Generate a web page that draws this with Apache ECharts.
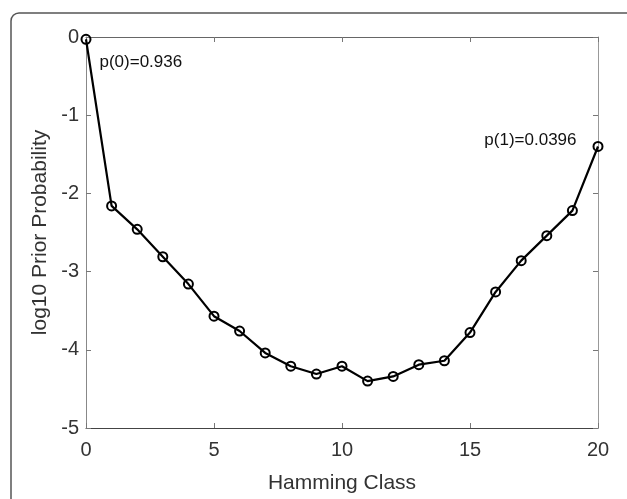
<!DOCTYPE html>
<html>
<head>
<meta charset="utf-8">
<script src="https://cdn.jsdelivr.net/npm/echarts@6/dist/echarts.min.js"></script>
<style>
html,body{margin:0;padding:0;background:#fff;}
#chart{width:627px;height:499px;}
</style>
</head>
<body>
<div id="chart"></div>
<script>
// Data
var hammingClass = [0,1,2,3,4,5,6,7,8,9,10,11,12,13,14,15,16,17,18,19,20];
var logPrior = [-0.029,-2.16,-2.46,-2.81,-3.16,-3.57,-3.76,-4.04,-4.21,-4.31,-4.21,-4.40,-4.34,-4.19,-4.14,-3.78,-3.26,-2.86,-2.54,-2.22,-1.40];
var xTicks = [0,5,10,15,20];
var yTicks = [-5,-4,-3,-2,-1,0];
var annotations = [{index:0, text:'p(0)=0.936'}, {index:20, text:'p(1)=0.0396'}];

var FONT = '"Liberation Sans", Arial, Helvetica, sans-serif';
var chart = echarts.init(document.getElementById('chart'), null, {renderer:'canvas'});

var seriesData = hammingClass.map(function(x, i){
  var item = {value:[x, logPrior[i]]};
  annotations.forEach(function(a){
    if (a.index === i) {
      var first = i === 0;
      item.label = {
        show: true,
        formatter: a.text,
        position: first ? 'right' : 'left',
        distance: 5,
        offset: first ? [3, 23] : [-11, -6],
        fontFamily: FONT,
        fontSize: 17,
        color: '#111'
      };
    }
  });
  return item;
});

var axisCommon = function(extra){
  return Object.assign({
    type:'value',
    splitLine:{show:false},
    axisTick:{show:true, inside:true, length:5, lineStyle:{color:'#777', width:1}},
    axisLabel:{show:false}
  }, extra);
};

chart.setOption({
  animation:false,
  backgroundColor:'#fff',
  graphic:[{
    type:'rect',
    shape:{x:11, y:13, width:700, height:600, r:8},
    style:{fill:'none', stroke:'#555', lineWidth:1.5},
    z:-10, silent:true
  }],
  grid:{left:86, right:29, top:37, bottom:60, containLabel:false},
  xAxis:[
    axisCommon({
      position:'bottom', min:xTicks[0], max:xTicks[xTicks.length-1], interval:xTicks[1]-xTicks[0],
      axisLine:{show:true, onZero:false, lineStyle:{color:'#444', width:1}},
      axisLabel:{show:true, margin:12, fontFamily:FONT, fontSize:20, color:'#333'},
      name:'Hamming Class', nameLocation:'middle', nameGap:45,
      nameTextStyle:{fontFamily:FONT, fontSize:21, color:'#333'}
    }),
    axisCommon({
      position:'top', min:xTicks[0], max:xTicks[xTicks.length-1], interval:xTicks[1]-xTicks[0],
      axisLine:{show:true, onZero:false, lineStyle:{color:'#666', width:1}}
    })
  ],
  yAxis:[
    axisCommon({
      position:'left', min:yTicks[0], max:yTicks[yTicks.length-1], interval:yTicks[1]-yTicks[0],
      axisLine:{show:true, onZero:false, lineStyle:{color:'#888', width:1}},
      axisLabel:{show:true, margin:7, fontFamily:FONT, fontSize:20, color:'#333'},
      name:'log10 Prior Probability', nameLocation:'middle', nameGap:27,
      nameTextStyle:{fontFamily:FONT, fontSize:21, color:'#333'}
    }),
    axisCommon({
      position:'right', min:yTicks[0], max:yTicks[yTicks.length-1], interval:yTicks[1]-yTicks[0],
      axisLine:{show:true, onZero:false, lineStyle:{color:'#999', width:1}}
    })
  ],
  series:[{
    type:'line',
    data:seriesData,
    xAxisIndex:0, yAxisIndex:0,
    symbol:'circle',
    symbolSize:9,
    showAllSymbol:true,
    lineStyle:{color:'#000', width:2.2},
    itemStyle:{color:'rgba(0,0,0,0)', borderColor:'#000', borderWidth:2},
    emphasis:{disabled:true},
    z:5
  }]
});
</script>
</body>
</html>
